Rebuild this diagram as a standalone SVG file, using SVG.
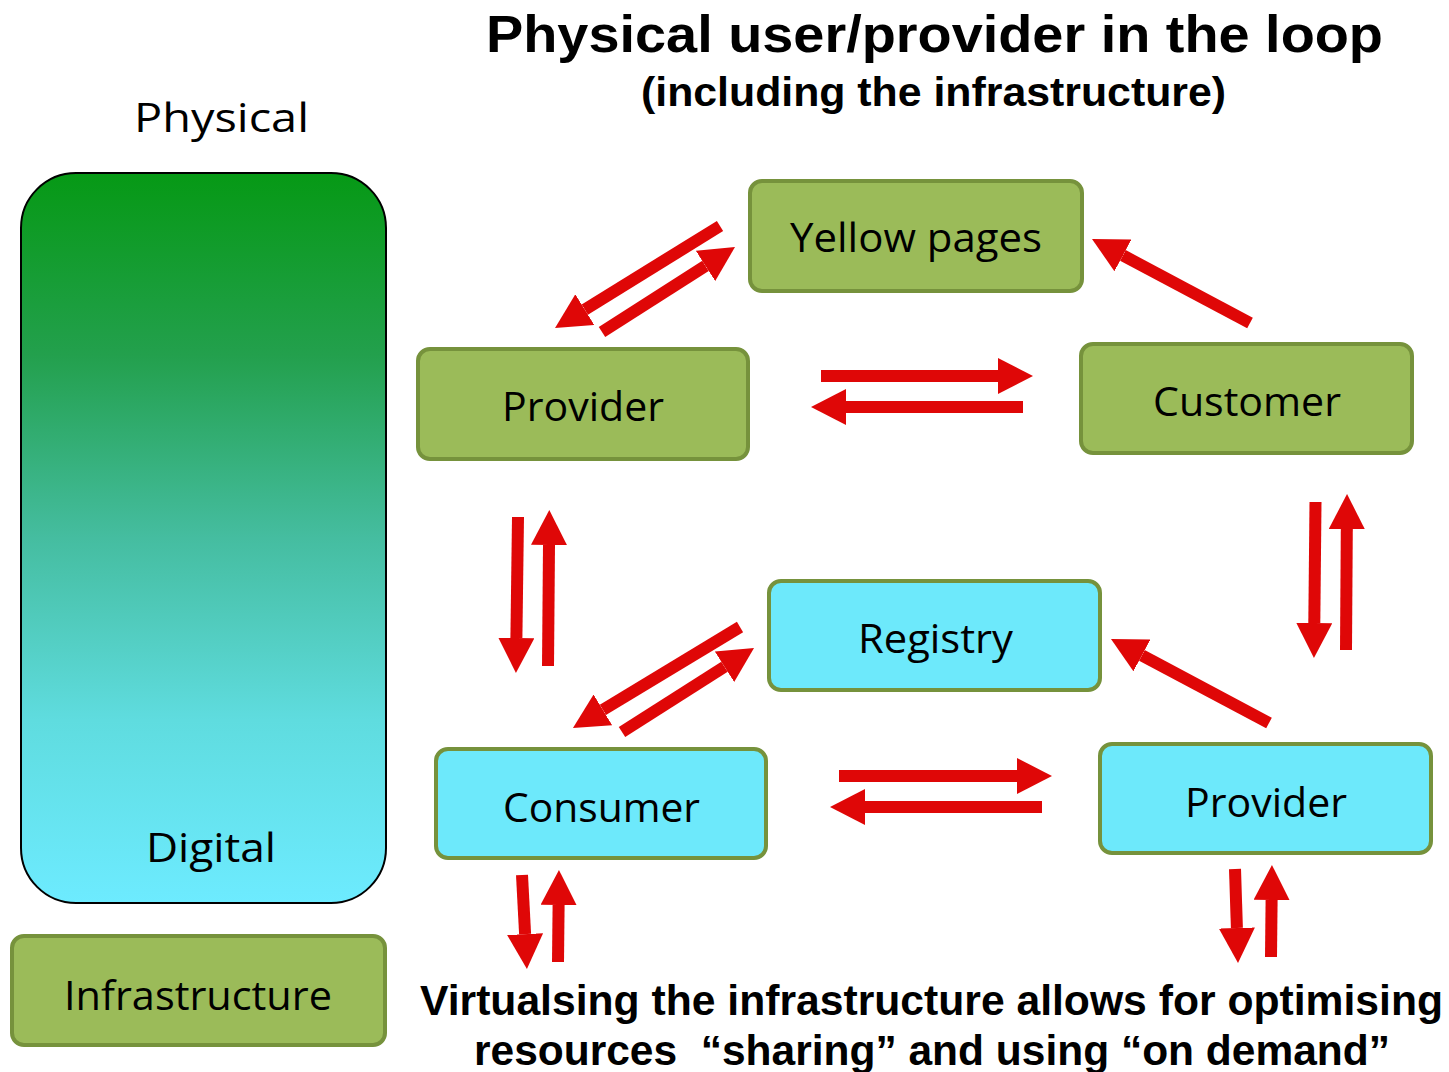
<svg xmlns="http://www.w3.org/2000/svg" width="1449" height="1072" viewBox="0 0 1449 1072">
<style>
.g{fill:#9BBB59;stroke:#76923C;stroke-width:4}
.c{fill:#6DE9FB;stroke:#76923C;stroke-width:4}
.lbl{font-family:"Open Sans","Liberation Sans",sans-serif;font-size:41px;fill:#000;text-anchor:start}
.b{font-family:"Liberation Sans",Arial,sans-serif;font-weight:bold;fill:#000}
.a{stroke:#DF0707;stroke-width:12;fill:none;marker-end:url(#h)}
</style>
<defs>
<linearGradient id="grad" x1="0" y1="0" x2="0" y2="1">
<stop offset="0" stop-color="#069915"/>
<stop offset="0.25" stop-color="#23A04D"/>
<stop offset="0.5" stop-color="#45BDA0"/>
<stop offset="0.75" stop-color="#5FDCDF"/>
<stop offset="1" stop-color="#6DEBFF"/>
</linearGradient>
<marker id="h" markerUnits="userSpaceOnUse" markerWidth="36" markerHeight="36" viewBox="0 0 36 36" refX="0" refY="18" orient="auto">
<path d="M0,0 L35,18 L0,36 z" fill="#DF0707"/>
</marker>
</defs>
<rect width="1449" height="1072" fill="#fff"/>

<text class="b" x="486" y="52" font-size="52" textLength="897" lengthAdjust="spacingAndGlyphs">Physical user/provider in the loop</text>
<text class="b" x="641" y="106" font-size="40" textLength="585" lengthAdjust="spacingAndGlyphs">(including the infrastructure)</text>

<g id="physical-digital">
<rect x="21" y="173" width="365" height="730" rx="55" fill="url(#grad)" stroke="#000" stroke-width="2"/>
<text class="lbl" x="134" y="132" font-size="46" textLength="175" lengthAdjust="spacingAndGlyphs">Physical</text>
<text class="lbl" x="146" y="862" font-size="46" textLength="130" lengthAdjust="spacingAndGlyphs">Digital</text>
</g>

<g id="infrastructure">
<rect class="g" x="12" y="936" width="373" height="109" rx="12"/>
<text class="lbl" x="64" y="1010" textLength="268" lengthAdjust="spacingAndGlyphs">Infrastructure</text>
</g>

<g id="yellow-pages">
<rect class="g" x="750" y="181" width="332" height="110" rx="12"/>
<text class="lbl" x="790" y="252" textLength="252" lengthAdjust="spacingAndGlyphs">Yellow pages</text>
</g>

<g id="provider-physical">
<rect class="g" x="418" y="349" width="330" height="110" rx="12"/>
<text class="lbl" x="502" y="421" textLength="162" lengthAdjust="spacingAndGlyphs">Provider</text>
</g>

<g id="customer">
<rect class="g" x="1081" y="344" width="331" height="109" rx="12"/>
<text class="lbl" x="1153" y="416" textLength="188" lengthAdjust="spacingAndGlyphs">Customer</text>
</g>

<g id="registry">
<rect class="c" x="769" y="581" width="331" height="109" rx="12"/>
<text class="lbl" x="858" y="653" textLength="155" lengthAdjust="spacingAndGlyphs">Registry</text>
</g>

<g id="consumer">
<rect class="c" x="436" y="749" width="330" height="109" rx="12"/>
<text class="lbl" x="503" y="822" textLength="197" lengthAdjust="spacingAndGlyphs">Consumer</text>
</g>

<g id="provider-digital">
<rect class="c" x="1100" y="744" width="331" height="109" rx="12"/>
<text class="lbl" x="1185" y="817" textLength="162" lengthAdjust="spacingAndGlyphs">Provider</text>
</g>

<g id="connectors">
<line class="a" x1="720" y1="226" x2="584.8" y2="309.6"/>
<line class="a" x1="602" y1="332" x2="705.5" y2="265.9"/>
<line class="a" x1="821" y1="376" x2="998" y2="376"/>
<line class="a" x1="1023" y1="407" x2="846" y2="407"/>
<line class="a" x1="1250" y1="323" x2="1122.9" y2="255.4"/>
<line class="a" x1="518" y1="517" x2="516.4" y2="638"/>
<line class="a" x1="548" y1="666" x2="549" y2="545"/>
<line class="a" x1="1315.5" y1="502" x2="1314.3" y2="623"/>
<line class="a" x1="1346" y1="650" x2="1346.8" y2="529"/>
<line class="a" x1="740" y1="627" x2="602.9" y2="709.9"/>
<line class="a" x1="622" y1="732" x2="724.5" y2="666.8"/>
<line class="a" x1="1269" y1="723" x2="1141.9" y2="655.4"/>
<line class="a" x1="839" y1="776" x2="1017" y2="776"/>
<line class="a" x1="1042" y1="807" x2="865" y2="807"/>
<line class="a" x1="522" y1="875" x2="525.1" y2="934.1"/>
<line class="a" x1="558" y1="962" x2="558.6" y2="905"/>
<line class="a" x1="1235" y1="869" x2="1236.9" y2="928"/>
<line class="a" x1="1271" y1="957" x2="1271.6" y2="900"/>
</g>

<text class="b" x="420" y="1015" font-size="42" textLength="1023" lengthAdjust="spacingAndGlyphs">Virtualsing the infrastructure allows for optimising</text>
<text class="b" x="474" y="1065" font-size="42" textLength="916" lengthAdjust="spacingAndGlyphs" xml:space="preserve">resources  “sharing” and using “on demand”</text>
</svg>
